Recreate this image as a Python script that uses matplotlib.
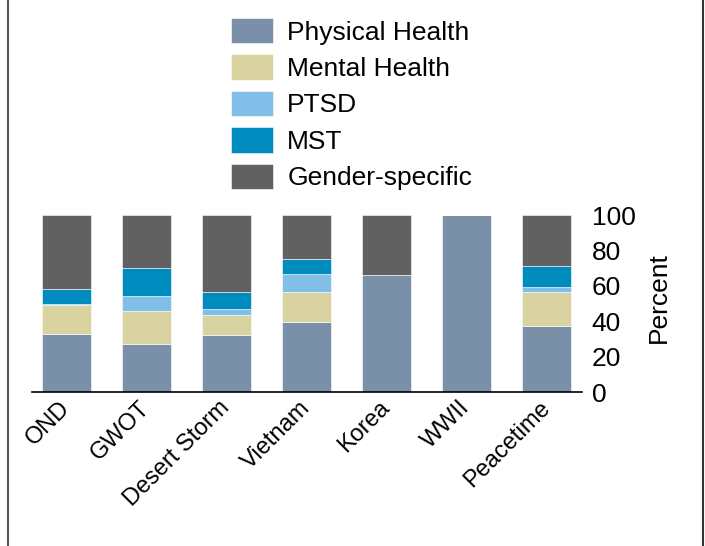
import numpy as np
import matplotlib.pyplot as plt
from matplotlib.lines import Line2D

plt.rcParams['font.family'] = ['Liberation Sans', 'DejaVu Sans']

eras = ['OND', 'GWOT', 'Desert Storm', 'Vietnam', 'Korea', 'WWII', 'Peacetime']
categories = ['Physical Health', 'Mental Health', 'PTSD', 'MST', 'Gender-specific']
physical = [33, 27, 32.5, 39.5, 66, 100, 37.5]
mental = [16, 19, 11, 17, 0, 0, 19]
ptsd = [0.5, 8.5, 3.5, 10, 0, 0, 3]
mst = [8.5, 15.5, 9.5, 8.5, 0, 0, 12]
gender = [42, 30, 43.5, 25, 34, 0, 28.5]
colors = ['#7a90a8', '#d8d3a0', '#82bfe8', '#008bbf', '#616161']

series = [physical, mental, ptsd, mst, gender]

fig = plt.figure(figsize=(7.05, 5.46), dpi=100)
ax = fig.add_axes([0.0454, 0.282, 0.780, 0.324])

x = np.arange(len(eras))
bottom = np.zeros(len(eras))
for vals, lab, col in zip(series, categories, colors):
    vals = np.array(vals, dtype=float)
    ax.bar(x, vals, width=0.61, bottom=bottom, color=col, label=lab,
           edgecolor='white', linewidth=0.4)
    bottom += vals

ax.set_xlim(-0.43, 6.44)
ax.set_ylim(0, 100)
ax.set_yticks([0, 20, 40, 60, 80, 100])
ax.yaxis.tick_right()
ax.yaxis.set_label_position('right')
ax.tick_params(axis='y', length=0, labelsize=19, pad=7)
ax.tick_params(axis='x', length=0, labelsize=17, pad=9)
ax.set_xticks(x)
ax.set_xticklabels(eras, rotation=45, ha='right', va='center', rotation_mode='anchor')
ax.set_ylabel('Percent', fontsize=19, labelpad=8, y=0.535)
for s in ['top', 'left', 'right']:
    ax.spines[s].set_visible(False)
ax.spines['bottom'].set_linewidth(1.2)

fig.legend(loc='upper left', bbox_to_anchor=(0.327, 0.967), frameon=False,
           fontsize=19, handlelength=1.6, handleheight=1.1,
           labelspacing=0.37, handletextpad=0.55, borderpad=0, borderaxespad=0)

fig.add_artist(Line2D([8 / 705, 8 / 705], [0, 1], color='#555555', linewidth=1.5))
fig.add_artist(Line2D([703 / 705, 703 / 705], [0, 1], color='#333333', linewidth=1.5))

fig.savefig('out.png', dpi=100)
